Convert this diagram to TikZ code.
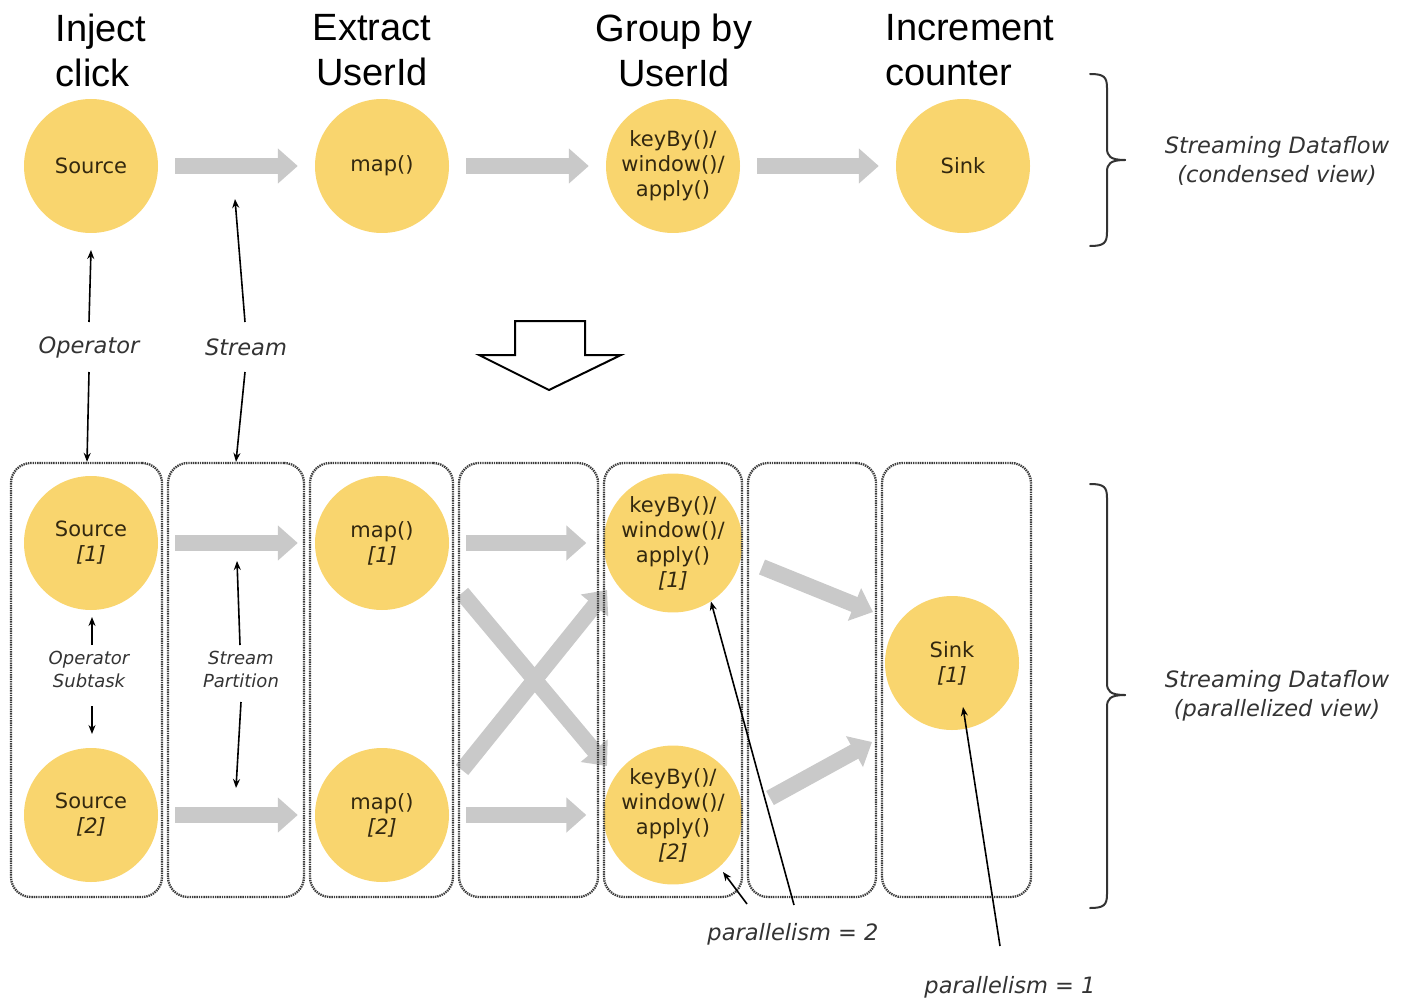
\documentclass[tikz,border=0pt]{standalone}
\usepackage{fontspec}
\setmainfont{DejaVu Sans}
\newfontfamily\titlefamily{Liberation Sans}
\usetikzlibrary{arrows.meta}

\definecolor{opfill}{HTML}{F9D56E}
\definecolor{optext}{HTML}{33280F}
\definecolor{flowgray}{HTML}{C9C9C9}
\definecolor{lanegray}{HTML}{3C3C3C}
\definecolor{notegray}{HTML}{333333}

\begin{document}
\begin{tikzpicture}[x=1pt,y=-1pt,
  op/.style={circle, fill=opfill, minimum size=134pt, inner sep=0pt, align=center,
    text=optext, font=\fontsize{21}{25}\selectfont},
  title/.style={font=\titlefamily\fontsize{38}{45}\selectfont, text=black, inner sep=0pt},
  flow/.style={draw=flowgray, line width=16pt, -{Triangle[length=20pt,width=34pt]}},
  flowc/.style={flow, shorten <=17pt, shorten >=17pt},
  lane/.style={draw=lanegray, dash pattern=on 1.4pt off 0.9pt, line width=2.3pt,
    rounded corners=20pt, minimum height=434pt, inner sep=0pt},
  note/.style={font=\fontsize{22.5}{29}\selectfont\itshape, text=notegray, align=center, inner sep=0pt},
  smallnote/.style={font=\fontsize{18}{23}\selectfont\itshape, text=notegray, align=center, inner sep=0pt},
  ptr/.style={draw=black, line width=1.6pt, -{Stealth[length=9pt,width=7pt]}},
  brace/.style={draw=black!80, line width=2pt, line cap=round},
]
\useasboundingbox (0,0) rectangle (1404,1000);

% ---------- condensed view ----------
\node[title, align=left]   (t1) at (101,50) {Inject\\click};
\node[title, align=center] (t2) at (372,50) {Extract\\UserId};
\node[title, align=center] (t3) at (674,50) {Group by\\UserId};
\node[title, align=left]   (t4) at (970,50) {Increment\\counter};

\node[op] (src)  at (91,166)  {Source};
\node[op] (map)  at (382,166) {map()};
\node[op] (key)  at (673,166) {keyBy()/\\window()/\\apply()};
\node[op] (sink) at (963,166) {Sink};

\draw[flowc] (src) -- (map);
\draw[flowc] (map) -- (key);
\draw[flowc] (key) -- (sink);

% ---------- parallel view ----------
\node[op] (src1) at (91,543)  {Source\\\textit{[1]}};
\node[op] (src2) at (91,815)  {Source\\\textit{[2]}};
\node[op] (map1) at (382,543) {map()\\\textit{[1]}};
\node[op] (map2) at (382,815) {map()\\\textit{[2]}};
\node[op] (key1) at (673,543) {keyBy()/\\window()/\\apply()\\\textit{[1]}};
\node[op] (key2) at (673,815) {keyBy()/\\window()/\\apply()\\\textit{[2]}};
\node[op] (sink1) at (952,663) {Sink\\\textit{[1]}};

\draw[flowc] (src1) -- (map1);
\draw[flowc] (src2) -- (map2);
\draw[flowc] (map1) -- (key1);
\draw[flowc] (map2) -- (key2);

% redistribution between map() and keyBy()
\coordinate (xa0) at (462,593);
\coordinate (xa1) at (607,766);
\coordinate (xb0) at (462,770);
\coordinate (xb1) at (607,590);
\draw[flow] (xa0) -- (xa1);
\draw[flow] (xb0) -- (xb1);

% keyBy() subtasks into the sink
\coordinate (ka0) at (762,567);
\coordinate (ka1) at (873,612);
\coordinate (kb0) at (770,798);
\coordinate (kb1) at (872,742);
\draw[flow] (ka0) -- (ka1);
\draw[flow] (kb0) -- (kb1);

% lanes of the parallel view
\node[lane, minimum width=151pt] (l1) at (86.5,680) {};
\node[lane, minimum width=136pt] (l2) at (236,680) {};
\node[lane, minimum width=143pt] (l3) at (381.5,680) {};
\node[lane, minimum width=139pt] (l4) at (528.5,680) {};
\node[lane, minimum width=138pt] (l5) at (673,680) {};
\node[lane, minimum width=128pt] (l6) at (812,680) {};
\node[lane, minimum width=149pt] (l7) at (956.5,680) {};

% ---------- transformation arrow ----------
\draw[line width=2pt, line join=miter, fill=white]
  (515,321) -- (585,321) -- (585,355) -- (621,355) -- (549,390) -- (479,355) -- (515,355) -- cycle;

% ---------- annotations ----------
\node[note] (opl) at (89,347) {Operator};
\node[note] (stl) at (246,347) {Stream};
\coordinate (stUp) at (235,199);
\draw[ptr] (89,322) -- (src.south |- 0,250);
\draw[ptr] (89,372) -- (l1.north -| 87,0);
\draw[ptr] (245,322) -- (stUp);
\draw[ptr] (245,372) -- (l2.north);

\node[smallnote] (subl) at (89,669) {Operator\\Subtask};
\node[smallnote] (parl) at (241,669) {Stream\\Partition};
\coordinate (ptUp) at (237,561);
\coordinate (ptDn) at (236,788);
\draw[ptr] (92,645) -- (92,617);
\draw[ptr] (92,706) -- (92,734);
\draw[ptr] (240,645) -- (ptUp);
\draw[ptr] (241,702) -- (ptDn);

\node[note] (p2) at (793,934) {parallelism = 2};
\coordinate (p2a) at (723,872);
\draw[ptr] (747,904) -- (p2a);
\draw[ptr] (794,905) -- (key1.-57);

\node[note] (p1) at (1010,987) {parallelism = 1};
\coordinate (p1a) at (963,707);
\draw[ptr] (1000,946) -- (p1a);

% ---------- view braces ----------
\draw[brace] (1090,74) .. controls (1104,74) and (1107,77) .. (1107,88) -- (1107,148)
  .. controls (1107,156) and (1110,160) .. (1125,160);
\draw[brace] (1090,246) .. controls (1104,246) and (1107,243) .. (1107,232) -- (1107,172)
  .. controls (1107,164) and (1110,160) .. (1125,160);
\node[note] (cv) at (1277,161) {Streaming Dataflow\\(condensed view)};

\draw[brace] (1090,484) .. controls (1104,484) and (1107,487) .. (1107,498) -- (1107,683)
  .. controls (1107,691) and (1110,695) .. (1125,695);
\draw[brace] (1090,908) .. controls (1104,908) and (1107,905) .. (1107,894) -- (1107,707)
  .. controls (1107,699) and (1110,695) .. (1125,695);
\node[note] (pv) at (1277,696) {Streaming Dataflow\\(parallelized view)};
\end{tikzpicture}
\end{document}
